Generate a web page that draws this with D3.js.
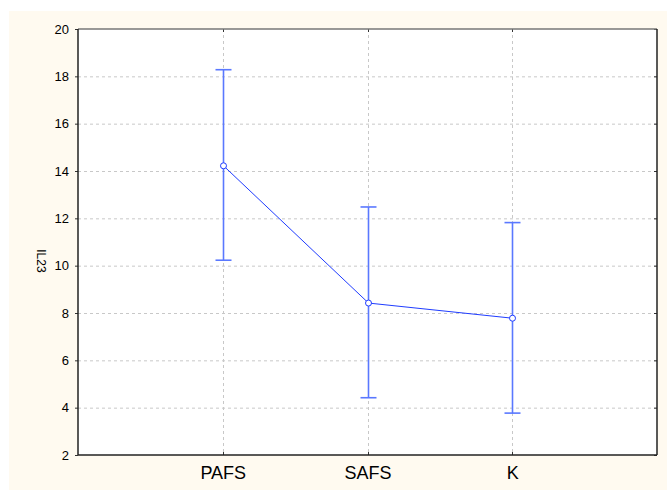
<!DOCTYPE html>
<html>
<head>
    <meta charset="utf-8">
    <script src="https://d3js.org/d3.v7.min.js"></script>
    <style>
        body { margin: 0; background: #fff; }
        text { font-family: Arial, "Liberation Sans", sans-serif; fill: #000; }
    </style>
</head>
<body>
    <svg class="chart"></svg>
    <script>
        // group means and 95% interval bounds for IL23
        var groups = ["PAFS", "SAFS", "K"];
        var means = [14.22, 8.42, 7.78];
        var lower = [10.23, 4.42, 3.77];
        var upper = [18.28, 12.48, 11.82];
        var yTicks = [2, 4, 6, 8, 10, 12, 14, 16, 18, 20];

        var svgWidth = 667, svgHeight = 490,
            margin = {top: 29, right: 10, bottom: 35, left: 78},
            width = 579,
            height = 426;

        var data = groups.map((g, i) => ({group: g, mean: means[i], lo: lower[i], hi: upper[i]}));

        var xScale = d3.scalePoint().domain(groups).range([0, width]).padding(1);
        var yScale = d3.scaleLinear().domain([2, 20]).range([height, 0]);

        var svg = d3.select(".chart")
            .attr("width", svgWidth)
            .attr("height", svgHeight);

        svg.append("rect")
            .attr("x", 9).attr("y", 11)
            .attr("width", svgWidth - 9).attr("height", svgHeight - 11)
            .attr("fill", "#fffaf0");

        var g = svg.append("g")
            .attr("transform", "translate(" + margin.left + "," + margin.top + ")");

        g.append("rect")
            .attr("width", width).attr("height", height)
            .attr("fill", "#fff");

        // grid
        g.append("g").selectAll("line")
            .data(yTicks.filter(t => t > 2 && t < 20)).enter().append("line")
                .attr("x1", 0).attr("x2", width)
                .attr("y1", d => yScale(d) + 0.5).attr("y2", d => yScale(d) + 0.5)
                .attr("stroke", "#c8c8c8").attr("stroke-dasharray", "3,3");
        g.append("g").selectAll("line")
            .data(groups).enter().append("line")
                .attr("x1", d => Math.round(xScale(d)) + 0.5).attr("x2", d => Math.round(xScale(d)) + 0.5)
                .attr("y1", 0).attr("y2", height)
                .attr("stroke", "#c8c8c8").attr("stroke-dasharray", "3,3");

        // axes
        var yAxis = d3.axisLeft(yScale).tickValues(yTicks).tickSize(3).tickPadding(6);
        var yAxisRight = d3.axisLeft(yScale).tickValues(yTicks).tickSize(3).tickFormat("");
        var xAxis = d3.axisBottom(xScale).tickSize(0).tickPadding(11);

        var ya = g.append("g").call(yAxis);
        ya.select(".domain").remove();
        ya.selectAll("text").style("font-size", "13px");
        ya.selectAll("line").attr("stroke", "#333");

        var yr = g.append("g").attr("transform", "translate(" + width + ",0)").call(yAxisRight);
        yr.select(".domain").remove();
        yr.selectAll("line").attr("x2", -3).attr("stroke", "#333");

        var xa = g.append("g").attr("transform", "translate(0," + height + ")").call(xAxis);
        xa.select(".domain").remove();
        xa.selectAll("text").style("font-size", "18px");

        g.append("g").selectAll("line")
            .data(groups).enter().append("line")
                .attr("x1", d => Math.round(xScale(d)) + 0.5).attr("x2", d => Math.round(xScale(d)) + 0.5)
                .attr("y1", height).attr("y2", height - 3)
                .attr("stroke", "#333");
        g.append("g").selectAll("line")
            .data(groups).enter().append("line")
                .attr("x1", d => Math.round(xScale(d)) + 0.5).attr("x2", d => Math.round(xScale(d)) + 0.5)
                .attr("y1", 0).attr("y2", 3)
                .attr("stroke", "#333");

        // frame
        g.append("line").attr("x1", 0).attr("x2", width).attr("y1", 0).attr("y2", 0)
            .attr("stroke", "#777").attr("stroke-width", 1.5);
        g.append("line").attr("x1", 0).attr("x2", 0).attr("y1", 0).attr("y2", height)
            .attr("stroke", "#222").attr("stroke-width", 1.5);
        g.append("line").attr("x1", width).attr("x2", width).attr("y1", 0).attr("y2", height)
            .attr("stroke", "#222").attr("stroke-width", 1.5);
        g.append("line").attr("x1", 0).attr("x2", width).attr("y1", height).attr("y2", height)
            .attr("stroke", "#222").attr("stroke-width", 1.5);

        // y label
        g.append("text")
            .attr("transform", "translate(-41," + (yScale(10.2)) + ") rotate(90)")
            .attr("text-anchor", "middle")
            .style("font-size", "12px")
            .text("IL23");

        // error bars
        var eb = g.append("g").selectAll("g")
            .data(data).enter().append("g")
                .attr("transform", d => "translate(" + (Math.round(xScale(d.group)) + 0.5) + ",0)");
        eb.append("line")
            .attr("y1", d => yScale(d.lo)).attr("y2", d => yScale(d.hi))
            .attr("stroke", "#5a78ff").attr("stroke-width", 1.6);
        eb.append("line")
            .attr("x1", -8).attr("x2", 8)
            .attr("y1", d => yScale(d.hi)).attr("y2", d => yScale(d.hi))
            .attr("stroke", "#5a78ff").attr("stroke-width", 1.6);
        eb.append("line")
            .attr("x1", -8).attr("x2", 8)
            .attr("y1", d => yScale(d.lo)).attr("y2", d => yScale(d.lo))
            .attr("stroke", "#5a78ff").attr("stroke-width", 1.6);

        // mean line and markers
        var line = d3.line()
            .x(d => Math.round(xScale(d.group)) + 0.5)
            .y(d => yScale(d.mean));
        g.append("path").datum(data)
            .attr("d", line)
            .attr("fill", "none")
            .attr("stroke", "#1f3cff").attr("stroke-width", 1);
        g.selectAll(".dot")
            .data(data).enter().append("circle")
                .attr("class", "dot")
                .attr("cx", d => Math.round(xScale(d.group)) + 0.5)
                .attr("cy", d => yScale(d.mean))
                .attr("r", 3)
                .attr("fill", "#fff")
                .attr("stroke", "#1f3cff").attr("stroke-width", 1);
    </script>
</body>
</html>
